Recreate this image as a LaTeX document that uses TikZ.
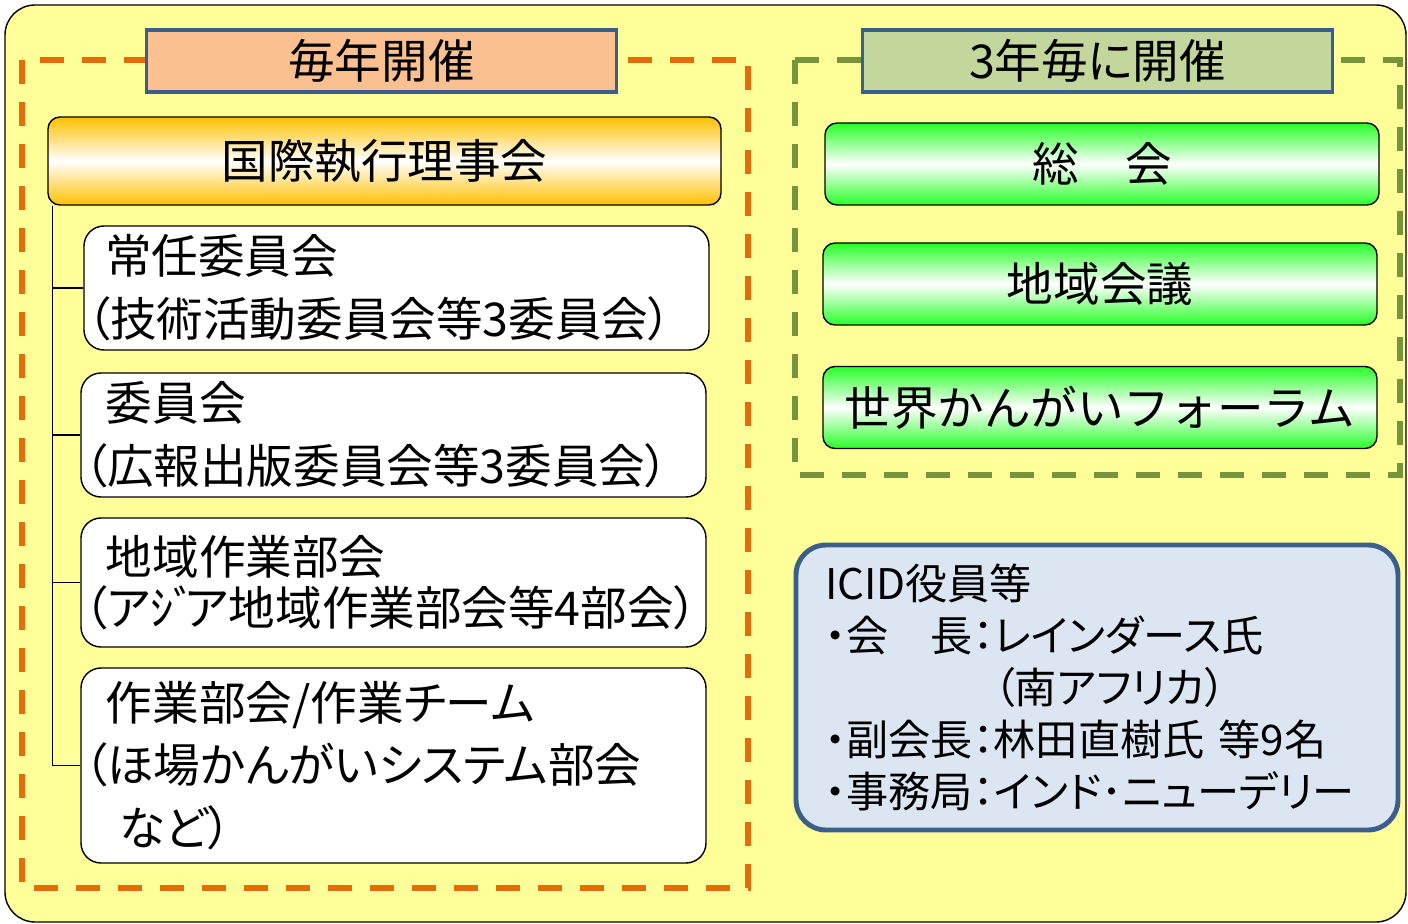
\documentclass[tikz,border=0pt]{standalone}
\usepackage{fontspec}
\setmainfont[RawFeature=+palt]{Noto Sans CJK JP}
\newfontfamily\zenkaku{Noto Sans CJK JP}
\definecolor{kiiro}{RGB}{255,255,153}
\definecolor{daidai}{RGB}{228,108,10}
\definecolor{midori}{RGB}{119,147,60}
\definecolor{aoiwaku}{RGB}{59,94,140}
\definecolor{hada}{RGB}{250,192,144}
\definecolor{usumidori}{RGB}{195,214,155}
\definecolor{kogane}{RGB}{255,192,0}
\definecolor{keikou}{RGB}{40,255,40}
\definecolor{usuao}{RGB}{220,230,242}
\tikzset{
  midashi/.style={draw=aoiwaku, line width=2.2pt, minimum width=9.4cm, minimum height=1.24cm,
    font=\fontsize{26.5}{30}\selectfont},
  iinkai/.style={draw, rounded corners=0.4cm, fill=white, line width=0.8pt, text width=12.38cm,
    inner xsep=0.06cm, minimum height=2.48cm, align=left, font=\fontsize{26.5}{35.7}\selectfont},
  sokai/.style={draw, rounded corners=0.24cm, line width=0.8pt, minimum width=11.08cm, minimum height=1.64cm,
    top color=keikou, bottom color=keikou, middle color=white, font=\fontsize{26.5}{30}\selectfont},
  hasen/.style={line width=3.2pt, dash pattern=on 0.48cm off 0.36cm},
  eda/.style={line width=0.8pt}
}
\begin{document}
\begin{tikzpicture}
\useasboundingbox (0,0) rectangle (28.16,-18.48);
\draw[fill=kiiro, line width=0.8pt, rounded corners=0.6cm] (0.1,-0.1) rectangle (28.12,-18.44);
\draw[hasen, draw=daidai] (0.44,-1.2) rectangle (14.96,-17.76);
\draw[hasen, draw=midori] (15.9,-1.2) rectangle (28.0,-9.5);

% 毎年開催
\node[midashi, fill=hada] (maitoshi) at (7.63,-1.22) {毎年開催};
\node[draw, rounded corners=0.24cm, line width=0.8pt, minimum width=13.46cm, minimum height=1.76cm,
  top color=kogane, bottom color=kogane, middle color=white, font=\fontsize{26.5}{30}\selectfont]
  (rijikai) at (7.69,-3.22) {国際執行理事会};
\node[iinkai] (jounin) at (7.93,-5.76) {\hspace*{0.36cm}常任委員会\\（技術活動委員会等3委員会）};
\node[iinkai] (iin) at (7.87,-8.70) {\hspace*{0.44cm}委員会\\（広報出版委員会等3委員会）};
\node[iinkai, minimum height=2.58cm, font=\fontsize{26.5}{28.9}\selectfont] (chiikisagyo) at (7.87,-11.65)
  {\hspace*{0.44cm}地域作業部会\\（アｼﾞ\kern-0.25emア地域作業部会等4部会）};
\node[iinkai, minimum height=3.9cm] (sagyo) at (7.87,-15.31)
  {\hspace*{0.44cm}作業部会/作業チーム\\（ほ場かんがいシステム部会\\\hspace*{0.7cm}など）};
\draw[eda] ([xshift=0.1cm]rijikai.south west) |- (jounin.west);
\draw[eda] ([xshift=0.1cm]rijikai.south west) |- (iin.west);
\draw[eda] ([xshift=0.1cm]rijikai.south west) |- (chiikisagyo.west);
\draw[eda] ([xshift=0.1cm]rijikai.south west) |- (sagyo.west);

% 3年毎に開催
\node[midashi, fill=usumidori] (sannen) at (21.95,-1.22) {3年毎に開催};
\node[sokai] (soukai) at (22.04,-3.28) {総　会};
\node[sokai] (chiikikaigi) at (22.0,-5.68) {地域会議};
\node[sokai, font=\zenkaku\fontsize{26.5}{30}\selectfont] (forum) at (22.0,-8.15) {世界かんがいフォーラム};

% ICID役員
\node[draw=aoiwaku, line width=2.8pt, fill=usuao, rounded corners=0.6cm, minimum height=5.7cm,
  inner xsep=0.58cm, text width=10.88cm, align=left, font=\fontsize{24}{29.5}\selectfont]
  (yakuin) at (21.94,-13.75)
  {ICID役員等\\・会　長：レインダース氏\\\phantom{・会　長：}（南アフリカ）\\・副会長：林田直樹氏 等9名\\・事務局：インド･ニューデリー};
\end{tikzpicture}
\end{document}
